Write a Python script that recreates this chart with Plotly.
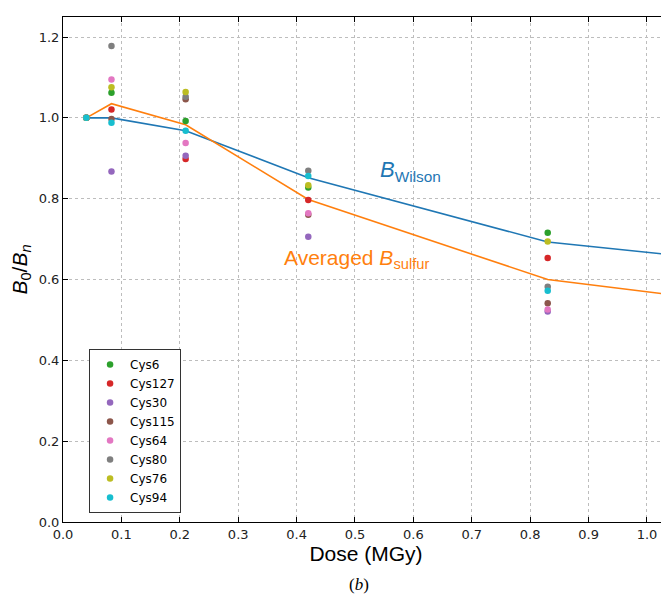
import plotly.graph_objects as go

# Doses (MGy)
doses = [0.04, 0.083, 0.21, 0.42, 0.83]

# B0/Bn per cysteine
series_names = ["Cys6", "Cys127", "Cys30", "Cys115", "Cys64", "Cys80", "Cys76", "Cys94"]
cys6 = [1.0, 1.062, 0.992, 0.828, 0.716]
cys127 = [1.0, 1.021, 0.898, 0.797, 0.653]
cys30 = [1.0, 0.867, 0.906, 0.706, 0.521]
cys115 = [1.0, 0.997, 1.046, 0.760, 0.541]
cys64 = [1.0, 1.095, 0.938, 0.764, 0.526]
cys80 = [1.0, 1.178, 1.052, 0.869, 0.582]
cys76 = [1.0, 1.076, 1.064, 0.833, 0.694]
cys94 = [1.0, 0.988, 0.968, 0.856, 0.572]
series_values = [cys6, cys127, cys30, cys115, cys64, cys80, cys76, cys94]
series_colors = ["#2ca02c", "#d62728", "#9467bd", "#8c564b", "#e377c2", "#7f7f7f", "#bcbd22", "#17becf"]

# Lines
wilson_dose = [0.04, 0.083, 0.21, 0.42, 0.83, 1.24]
wilson_vals = [1.0, 1.0, 0.968, 0.852, 0.693, 0.631]
avg_dose = [0.04, 0.083, 0.21, 0.42, 0.83, 1.24]
avg_vals = [1.0, 1.035, 0.983, 0.798, 0.600, 0.527]

fig = go.Figure()
fig.add_trace(go.Scatter(x=wilson_dose, y=wilson_vals, mode="lines",
                         line=dict(color="#1f77b4", width=1.6), showlegend=False))
fig.add_trace(go.Scatter(x=avg_dose, y=avg_vals, mode="lines",
                         line=dict(color="#ff7f0e", width=1.6), showlegend=False))
for name, vals, col in zip(series_names, series_values, series_colors):
    fig.add_trace(go.Scatter(x=doses, y=vals, mode="markers", name=name,
                             marker=dict(color=col, size=6.5, line=dict(width=0))))

grid = dict(showgrid=True, gridcolor="#bdbdbd", griddash="dot", gridwidth=1)
fig.update_layout(
    width=661, height=590,
    margin=dict(l=55, r=0, t=9, b=76, autoexpand=False),
    paper_bgcolor="white", plot_bgcolor="white",
    font=dict(family="DejaVu Sans", size=13, color="#222"),
    xaxis=dict(range=[0, 1.0377], tickvals=[0, 0.1, 0.2, 0.3, 0.4, 0.5, 0.6, 0.7, 0.8, 0.9, 1.0],
               ticktext=["0.0", "0.1", "0.2", "0.3", "0.4", "0.5", "0.6", "0.7", "0.8", "0.9", "1.0"],
               showline=True, linecolor="black", linewidth=1, mirror="ticks",
               ticks="inside", ticklen=5, tickcolor="black", zeroline=False, automargin=False,
               title=dict(text="Dose (MGy)", font=dict(family="Liberation Sans", size=21, color="black"), standoff=3),
               **grid),
    yaxis=dict(range=[0, 1.2496], tickvals=[0, 0.2, 0.4, 0.6, 0.8, 1.0, 1.2],
               ticktext=["0.0", "0.2", "0.4", "0.6", "0.8", "1.0", "1.2"],
               showline=True, linecolor="black", linewidth=1,
               ticks="inside", ticklen=5, tickcolor="black", zeroline=False, automargin=False,
               title=dict(text="<i>B</i><sub>0</sub>/<i>B</i><sub><i>n</i></sub>",
                          font=dict(family="Liberation Sans", size=21, color="black"), standoff=6),
               **grid),
    legend=dict(x=0.043, y=0.3426, xanchor="left", yanchor="top",
                bgcolor="white", bordercolor="#333", borderwidth=1,
                font=dict(family="DejaVu Sans", size=12, color="black"),
                itemwidth=30, tracegroupgap=0),
    annotations=[
        dict(x=0.539, y=0.868, xref="x", yref="y", xanchor="left", yanchor="middle",
             text="<i>B</i><sub>Wilson</sub>", showarrow=False,
             font=dict(family="Liberation Sans", size=22, color="#1f77b4")),
        dict(x=0.375, y=0.650, xref="x", yref="y", xanchor="left", yanchor="middle",
             text="Averaged <i>B</i><sub>sulfur</sub>", showarrow=False,
             font=dict(family="Liberation Sans", size=21, color="#ff7f0e")),
        dict(x=0.4886, y=-0.123, xref="paper", yref="paper", xanchor="center", yanchor="middle",
             text="(<i>b</i>)", showarrow=False,
             font=dict(family="Liberation Serif", size=17, color="black")),
    ],
)
fig.write_html("out.html")
